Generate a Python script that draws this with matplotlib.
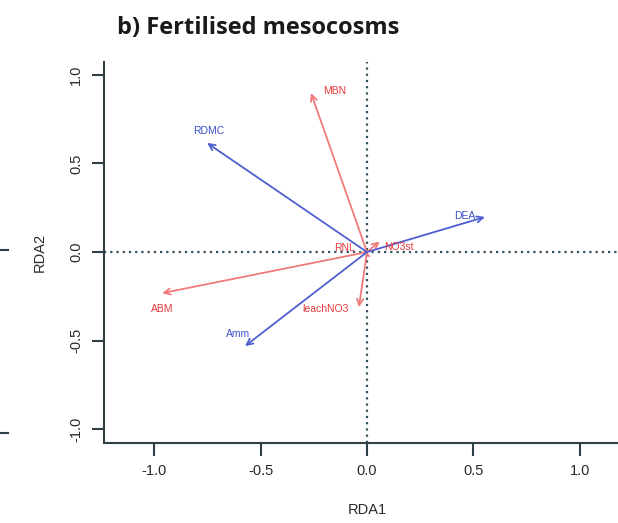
import matplotlib
matplotlib.use("Agg")
import matplotlib.pyplot as plt

# Data: biplot arrow tips (RDA1, RDA2)
red_labels = ["MBN", "ABM", "leachNO3", "RNL", "NO3st"]
red_x = [-0.263, -0.962, -0.038, -0.02, 0.06]
red_y = [0.898, -0.232, -0.311, 0.01, 0.06]

blue_labels = ["RDMC", "DEA", "Amm"]
blue_x = [-0.751, 0.554, -0.573]
blue_y = [0.616, 0.198, -0.531]

xticks = [-1.0, -0.5, 0.0, 0.5, 1.0]
yticks = [-1.0, -0.5, 0.0, 0.5, 1.0]

RED_LINE = "#f07a7a"
RED_TXT = "#e83a3a"
BLUE_LINE = "#4f5fd0"
BLUE_TXT = "#3a4fc8"

fig = plt.figure(figsize=(6.18, 5.23), dpi=100)
W, H = 618, 523
ax = fig.add_axes([104 / W, (523 - 443) / H, 526 / W, 381 / H])
ax.set_xlim(-1.235, 1.235)
ax.set_ylim(-1.078, 1.073)

ax.axhline(0, color="#34505e", ls=(0, (1, 1.8)), lw=1.6, zorder=1)
ax.axvline(0, color="#34505e", ls=(0, (1, 1.8)), lw=1.6, zorder=1)

label_off = {
    "MBN": (12, 2, "left", "center"),
    "ABM": (0, -16, "center", "center"),
    "leachNO3": (-10, -2, "right", "center"),
    "RNL": (-8, 2, "right", "center"),
    "NO3st": (4, -6, "left", "center"),
    "RDMC": (2, 12, "center", "center"),
    "DEA": (-10, 1, "right", "center"),
    "Amm": (-7, 12, "center", "center"),
}

def draw(xs, ys, labels, lc, tc):
    for x, y, lab in zip(xs, ys, labels):
        ax.annotate("", xy=(x, y), xytext=(0, 0),
                    arrowprops=dict(arrowstyle="->,head_length=0.45,head_width=0.22",
                                    color=lc, lw=1.3, shrinkA=0, shrinkB=0),
                    zorder=3)
        dx, dy, ha, va = label_off[lab]
        ax.annotate(lab, xy=(x, y), xytext=(dx, dy), textcoords="offset pixels",
                    ha=ha, va=va, fontsize=7.5, color=tc, family="Liberation Sans",
                    zorder=4)

draw(red_x, red_y, red_labels, RED_LINE, RED_TXT)
draw(blue_x, blue_y, blue_labels, BLUE_LINE, BLUE_TXT)

ax.set_xticks(xticks)
ax.set_yticks(yticks)
ax.set_xticklabels([f"{t:.1f}" for t in xticks], family="Liberation Sans", fontsize=10.5, color="#2a2a2a")
ax.set_yticklabels([f"{t:.1f}" for t in yticks], family="Liberation Sans", fontsize=10.5, color="#2a2a2a",
                   rotation=90, va="center")
ax.tick_params(axis="both", direction="out", length=9, width=1.5, color="#2f3f48", pad=6)
ax.spines["top"].set_visible(False)
ax.spines["right"].set_visible(False)
for s in ("left", "bottom"):
    ax.spines[s].set_linewidth(1.5)
    ax.spines[s].set_color("#2f3f48")

ax.set_xlabel("RDA1", family="Liberation Sans", fontsize=10.5, color="#2a2a2a", labelpad=18)
ax.set_ylabel("RDA2", family="Liberation Sans", fontsize=10.5, color="#2a2a2a", labelpad=16)

fig.text(117 / W, 1 - 28 / H, "b) Fertilised mesocosms", family="Open Sans", fontweight="bold",
         fontsize=17, color="#1a1a1a", ha="left", va="center")

# fragments of neighbouring panel at left edge
fig.add_artist(plt.Line2D([0, 8 / W], [1 - 250 / H, 1 - 250 / H], color="#2f3f48", lw=1.5))
fig.add_artist(plt.Line2D([0, 8 / W], [1 - 433 / H, 1 - 433 / H], color="#2f3f48", lw=1.5))

fig.savefig("out.png", dpi=100)
